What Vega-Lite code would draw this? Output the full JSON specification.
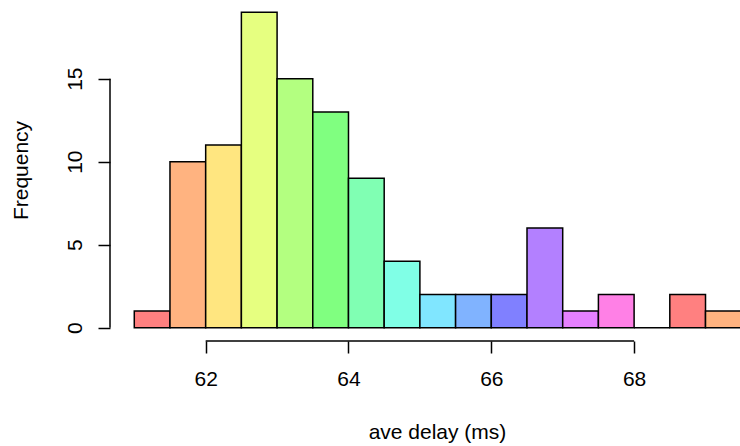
{
  "$schema": "https://vega.github.io/schema/vega-lite/v6.json",
  "width": 630,
  "height": 341,
  "autosize": {"type": "none"},
  "padding": {"left": 110, "top": 0, "right": 0, "bottom": 105},
  "background": "white",
  "config": {"view": {"stroke": null}, "font": "Liberation Sans"},
  "layer": [
    {
      "data": {
        "values": [
          {"start": 61.0, "end": 61.5, "count": 1, "color": "#FF8080"},
          {"start": 61.5, "end": 62.0, "count": 10, "color": "#FFB380"},
          {"start": 62.0, "end": 62.5, "count": 11, "color": "#FFE680"},
          {"start": 62.5, "end": 63.0, "count": 19, "color": "#E6FF80"},
          {"start": 63.0, "end": 63.5, "count": 15, "color": "#B3FF80"},
          {"start": 63.5, "end": 64.0, "count": 13, "color": "#80FF80"},
          {"start": 64.0, "end": 64.5, "count": 9, "color": "#80FFB3"},
          {"start": 64.5, "end": 65.0, "count": 4, "color": "#80FFE6"},
          {"start": 65.0, "end": 65.5, "count": 2, "color": "#80E6FF"},
          {"start": 65.5, "end": 66.0, "count": 2, "color": "#80B3FF"},
          {"start": 66.0, "end": 66.5, "count": 2, "color": "#8080FF"},
          {"start": 66.5, "end": 67.0, "count": 6, "color": "#B380FF"},
          {"start": 67.0, "end": 67.5, "count": 1, "color": "#E680FF"},
          {"start": 67.5, "end": 68.0, "count": 2, "color": "#FF80E6"},
          {"start": 68.0, "end": 68.5, "count": 0, "color": "#FF80B3"},
          {"start": 68.5, "end": 69.0, "count": 2, "color": "#FF8080"},
          {"start": 69.0, "end": 69.5, "count": 1, "color": "#FFB380"}
        ]
      },
      "mark": {"type": "rect", "stroke": "black", "strokeWidth": 1.5, "clip": true},
      "encoding": {
        "x": {
          "field": "start",
          "type": "quantitative",
          "scale": {"domain": [60.66, 69.483], "nice": false, "zero": false},
          "axis": {
            "values": [62, 64, 66, 68],
            "format": "d",
            "domain": false,
            "grid": false,
            "tickSize": 12,
            "tickColor": "black",
            "tickWidth": 1.5,
            "labelFontSize": 21,
            "labelColor": "black",
            "labelPadding": 15,
            "labelFlush": false,
            "title": "ave delay (ms)",
            "titleFontSize": 21,
            "titleFontWeight": "normal",
            "titleColor": "black",
            "titleX": 327,
            "titleY": 97,
            "titleBaseline": "alphabetic",
            "titleAlign": "center"
          }
        },
        "x2": {"field": "end"},
        "y": {
          "field": "count",
          "type": "quantitative",
          "scale": {"domain": [-0.8, 19.74], "nice": false, "zero": false},
          "axis": {
            "values": [0, 5, 10, 15],
            "format": "d",
            "domain": false,
            "grid": false,
            "tickSize": 12,
            "tickColor": "black",
            "tickWidth": 1.5,
            "labelFontSize": 21,
            "labelColor": "black",
            "labelAngle": -90,
            "labelAlign": "center",
            "labelBaseline": "alphabetic",
            "labelPadding": 17,
            "title": "Frequency",
            "titleFontSize": 21,
            "titleFontWeight": "normal",
            "titleColor": "black",
            "titleAngle": -90,
            "titleX": -83,
            "titleY": 170,
            "titleBaseline": "alphabetic",
            "titleAlign": "center"
          }
        },
        "y2": {"datum": 0},
        "color": {"field": "color", "type": "nominal", "scale": null, "legend": null}
      }
    },
    {
      "data": {"values": [{"from": 62, "to": 68, "level": -0.8}]},
      "mark": {"type": "rule", "color": "black", "strokeWidth": 1.5},
      "encoding": {
        "x": {"field": "from", "type": "quantitative"},
        "x2": {"field": "to"},
        "y": {"field": "level", "type": "quantitative"}
      }
    },
    {
      "data": {"values": [{"pos": 60.66, "low": 0, "high": 15}]},
      "mark": {"type": "rule", "color": "black", "strokeWidth": 1.5},
      "encoding": {
        "x": {"field": "pos", "type": "quantitative"},
        "y": {"field": "low", "type": "quantitative"},
        "y2": {"field": "high"}
      }
    }
  ]
}
